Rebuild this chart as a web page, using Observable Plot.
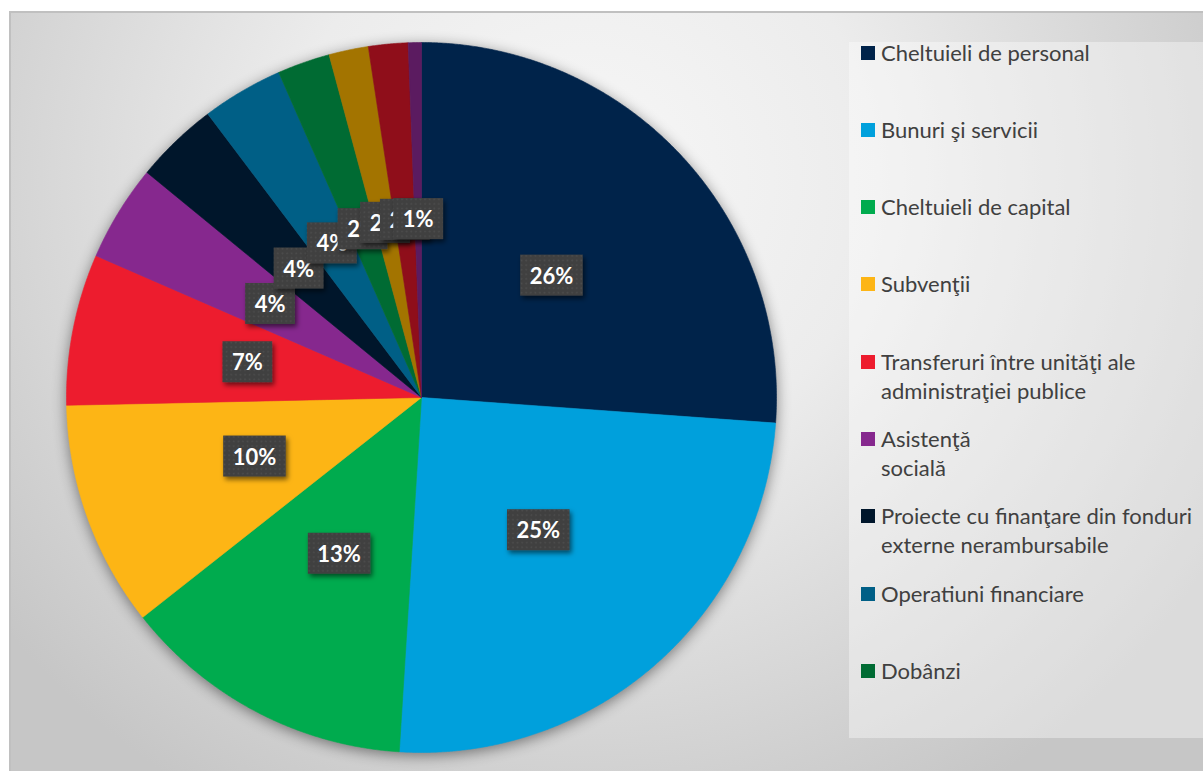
<!DOCTYPE html>
<html>
<head>
<meta charset="utf-8">
<script src="https://cdn.jsdelivr.net/npm/d3@7"></script>
<script src="https://cdn.jsdelivr.net/npm/@observablehq/plot@0.6"></script>
<style>
  html, body { margin: 0; padding: 0; background: #ffffff; }
  body { width: 1203px; height: 771px; position: relative; overflow: hidden; font-family: Lato, "Open Sans", sans-serif; }
  #frame {
    position: absolute; left: 9px; top: 11px; width: 1194px; height: 760px;
    box-sizing: border-box; border-left: 2px solid #c0c0c0; border-top: 2px solid #c0c0c0;
    background: radial-gradient(ellipse 62% 95% at 48% 22%, #f7f7f7 0%, #ececec 40%, #d6d6d6 75%, #c6c6c6 100%);
  }
  #chart { position: absolute; left: 61px; top: 37px; }
  #chart svg { overflow: visible; }
  #chart g[aria-label="line"] { filter: drop-shadow(0px 3px 7px rgba(0,0,0,0.45)); }
  #legend {
    position: absolute; left: 849px; top: 42px; width: 354px; height: 696px;
    background: rgba(255,255,255,0.38);
  }
  .item { position: absolute; left: 12px; white-space: nowrap; color: #404040; font-size: 22px; line-height: 29px; }
  .sw { position: absolute; left: 0; top: 8px; width: 14px; height: 14px; }
  .lab { position: absolute; left: 20px; top: 0; }
</style>
</head>
<body>
<div id="frame"></div>
<div id="chart"></div>
<div id="legend"></div>
<script>
// ---- data ----
const names = [
  "Cheltuieli de personal",
  "Bunuri şi servicii",
  "Cheltuieli de capital",
  "Subvenţii",
  "Transferuri între unităţi ale\nadministraţiei publice",
  "Asistenţă\nsocială",
  "Proiecte cu finanţare din fonduri\nexterne nerambursabile",
  "Operatiuni financiare",
  "Dobânzi",
  "Alte cheltuieli",
  "Rambursări de credite",
  "Alte transferuri"
];
const values = [26.2, 24.9, 13.4, 10.3, 6.9, 4.4, 3.8, 3.7, 2.4, 1.8, 1.8, 0.6];
const colors = ["#00234a", "#00a0dc", "#00ab4e", "#fdb515", "#ed1c2e", "#86288e",
                "#00162b", "#005f86", "#006b33", "#a37400", "#8f0e1a", "#5b1b60"];
const legendShown = 9;

// ---- pie geometry via d3.pie (angles clockwise from 12 o'clock) ----
const total = d3.sum(values);
const arcs = d3.pie().sort(null).value(d => d)(values)
  .map((a, i) => ({...a, name: names[i]}));

const rows = [];
for (const a of arcs) {
  rows.push({name: a.name, x: 0, y: 0});
  const n = Math.max(2, Math.ceil((a.endAngle - a.startAngle) / (Math.PI / 720)));
  for (let k = 0; k <= n; k++) {
    const t = a.startAngle + (a.endAngle - a.startAngle) * k / n;
    rows.push({name: a.name, x: Math.sin(t), y: Math.cos(t)});
  }
  rows.push({name: a.name, x: 0, y: 0});
}
const labelR = 0.5;
const mid = a => (a.startAngle + a.endAngle) / 2;

const plot = Plot.plot({
  width: 720, height: 720,
  margin: 5,
  x: {domain: [-1, 1], axis: null},
  y: {domain: [-1, 1], axis: null},
  color: {domain: names, range: colors, type: "ordinal"},
  style: {background: "transparent", fontFamily: "Lato, 'Open Sans', sans-serif", overflow: "visible"},
  marks: [
    Plot.line(rows, {x: "x", y: "y", z: "name", fill: "name", stroke: "name", strokeWidth: 0.6}),
    Plot.text(arcs, {
      x: a => labelR * Math.sin(mid(a)),
      y: a => labelR * Math.cos(mid(a)),
      text: a => d3.format(".0%")(a.value / total),
      fill: "white", fontWeight: "bold", fontSize: 22
    })
  ]
});
document.getElementById("chart").appendChild(plot);

// label boxes (drawn before each label, so later boxes overlap earlier labels)
const svgNS = "http://www.w3.org/2000/svg";
const defs = document.createElementNS(svgNS, "defs");
defs.innerHTML = `<pattern id="dots" width="4.6" height="4.6" patternUnits="userSpaceOnUse">
  <rect width="4.6" height="4.6" fill="#404040"></rect>
  <rect x="1.5" y="1.5" width="1.6" height="1.6" fill="#4e4e4e"></rect></pattern>
  <filter id="sh" x="-30%" y="-30%" width="160%" height="160%">
  <feDropShadow dx="2" dy="3" stdDeviation="2.5" flood-color="#000" flood-opacity="0.55"></feDropShadow></filter>`;
plot.insertBefore(defs, plot.firstChild);
plot.querySelectorAll('g[aria-label="text"] text').forEach(t => {
  const b = t.getBBox();
  const r = document.createElementNS(svgNS, "rect");
  const h = 41;
  r.setAttribute("x", b.x - 9.5);
  r.setAttribute("y", b.y + b.height / 2 - h / 2);
  r.setAttribute("width", b.width + 19);
  r.setAttribute("height", h);
  r.setAttribute("fill", "url(#dots)");
  r.setAttribute("filter", "url(#sh)");
  const tr = t.getAttribute("transform");
  if (tr) r.setAttribute("transform", tr);
  t.parentNode.insertBefore(r, t);
});

// legend
const legend = document.getElementById("legend");
names.slice(0, legendShown).forEach((nm, i) => {
  const it = document.createElement("div");
  it.className = "item";
  it.style.top = (i * 77.3 - 4.5) + "px";
  const sw = document.createElement("div");
  sw.className = "sw";
  sw.style.background = colors[i];
  const lab = document.createElement("div");
  lab.className = "lab";
  lab.innerHTML = nm.split("\n").join("<br>");
  it.appendChild(sw); it.appendChild(lab);
  legend.appendChild(it);
});
</script>
</body>
</html>
